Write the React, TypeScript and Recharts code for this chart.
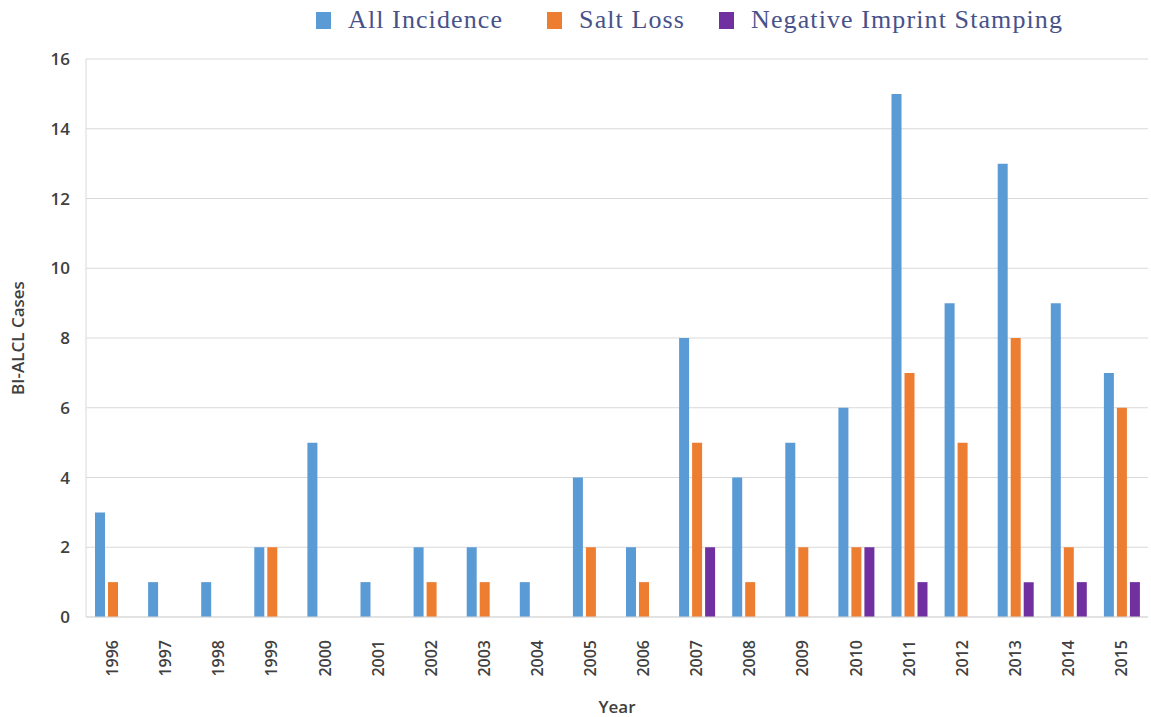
import { BarChart, Bar, XAxis, YAxis, CartesianGrid, Legend } from 'recharts';

const years = [
  '1996', '1997', '1998', '1999', '2000', '2001', '2002', '2003', '2004', '2005',
  '2006', '2007', '2008', '2009', '2010', '2011', '2012', '2013', '2014', '2015',
];
const allIncidence = [3, 1, 1, 2, 5, 1, 2, 2, 1, 4, 2, 8, 4, 5, 6, 15, 9, 13, 9, 7];
const saltLoss = [1, 0, 0, 2, 0, 0, 1, 1, 0, 2, 1, 5, 1, 2, 2, 7, 5, 8, 2, 6];
const negativeImprint = [0, 0, 0, 0, 0, 0, 0, 0, 0, 0, 0, 2, 0, 0, 2, 1, 0, 1, 1, 1];
const yTicks = [0, 2, 4, 6, 8, 10, 12, 14, 16];

const series = [
  { key: 'all', name: 'All Incidence', color: '#5B9BD5' },
  { key: 'salt', name: 'Salt Loss', color: '#ED7D31' },
  { key: 'neg', name: 'Negative Imprint Stamping', color: '#7030A0' },
];

const data = years.map((year, i) => ({
  year,
  all: allIncidence[i],
  salt: saltLoss[i],
  neg: negativeImprint[i],
}));

const tickFont = '"Open Sans", "Liberation Sans", sans-serif';

function YearTick({ x, y, payload }: any) {
  return (
    <g transform={`translate(${x},${y + 15})`}>
      <text
        transform="rotate(-90)"
        textAnchor="end"
        dy="0.35em"
        fontFamily={tickFont}
        fontSize={16}
        fontWeight={600}
        fill="#404040"
      >
        {payload.value}
      </text>
    </g>
  );
}

function LegendContent() {
  return (
    <div
      style={{
        display: 'flex',
        alignItems: 'center',
        height: 40,
        paddingLeft: 316,
        fontFamily: '"Liberation Serif", "Times New Roman", serif',
        fontSize: 26,
        letterSpacing: 1.1,
        color: '#48528a',
      }}
    >
      {series.map((s, i) => (
        <div key={s.key} style={{ display: 'flex', alignItems: 'center', marginRight: i === 0 ? 44 : 34 }}>
          <span style={{ width: 15, height: 17, background: s.color, marginRight: 17, display: 'inline-block' }} />
          <span>{s.name}</span>
        </div>
      ))}
    </div>
  );
}

export default function App() {
  return (
    <div style={{ position: 'absolute', left: 0, top: 0, background: '#fff' }}>
      <BarChart
        width={1151}
        height={717}
        data={data}
        margin={{ top: 19, right: 3, bottom: 0, left: 0 }}
        barGap={3}
        barSize={10}
      >
        <Legend
          verticalAlign="top"
          align="left"
          height={40}
          content={<LegendContent />}
          wrapperStyle={{ left: 0, top: 0, width: 1151 }}
        />
        <CartesianGrid vertical={false} stroke="#d9d9d9" />
        <XAxis
          dataKey="year"
          height={100}
          interval={0}
          tickLine={false}
          axisLine={{ stroke: '#d9d9d9' }}
          tick={<YearTick />}
          label={{
            value: 'Year',
            position: 'insideBottom',
            offset: 4,
            fontFamily: tickFont,
            fontSize: 17,
            fontWeight: 600,
            fill: '#404040',
          }}
        />
        <YAxis
          width={86}
          domain={[0, 16]}
          ticks={yTicks}
          tickLine={false}
          axisLine={{ stroke: '#d9d9d9' }}
          tickMargin={10}
          tick={{ fontFamily: tickFont, fontSize: 17, fontWeight: 600, fill: '#404040' }}
          label={{
            value: 'BI-ALCL Cases',
            angle: -90,
            position: 'insideLeft',
            offset: 18,
            style: { textAnchor: 'middle' },
            fontFamily: tickFont,
            fontSize: 17,
            fontWeight: 600,
            fill: '#404040',
          }}
        />
        {series.map((s) => (
          <Bar key={s.key} dataKey={s.key} name={s.name} fill={s.color} isAnimationActive={false} />
        ))}
      </BarChart>
    </div>
  );
}
